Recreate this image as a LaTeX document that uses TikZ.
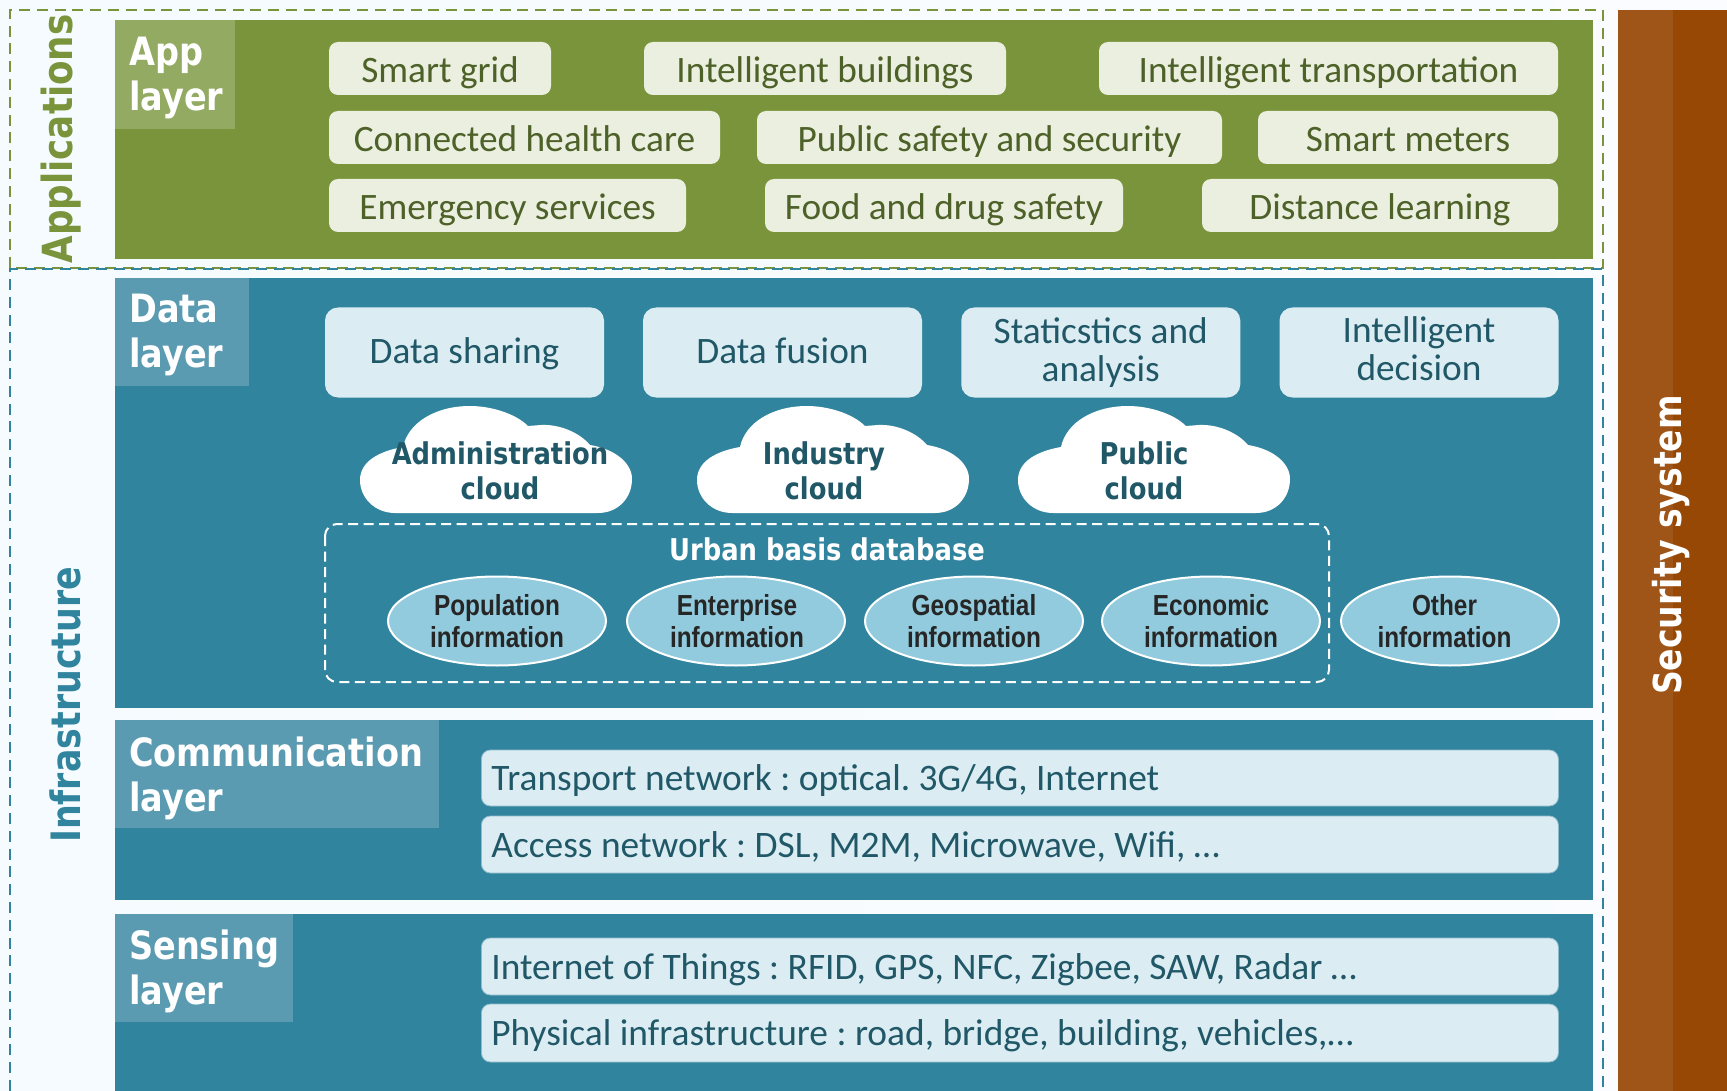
\documentclass[tikz,border=0pt]{standalone}
\usepackage{fontspec}
\setmainfont{Carlito}
\newfontfamily\headfont[FakeStretch=0.86]{DejaVu Sans}
\newfontfamily\ellfont[FakeStretch=0.84]{Liberation Sans}
\usetikzlibrary{shapes.geometric}
\definecolor{appgreen}{HTML}{7A943C}
\definecolor{apphead}{HTML}{93AA62}
\definecolor{appitem}{HTML}{EAEFDF}
\definecolor{apptext}{HTML}{4D6128}
\definecolor{teal}{HTML}{31849E}
\definecolor{tealhead}{HTML}{5B9BB2}
\definecolor{tealitem}{HTML}{DBEDF3}
\definecolor{tealedge}{HTML}{8FBCCB}
\definecolor{tealtext}{HTML}{215868}
\definecolor{ovalfill}{HTML}{92CBDD}
\definecolor{secleft}{HTML}{9F5518}
\definecolor{secright}{HTML}{964804}
\definecolor{pagefill}{HTML}{F5FBFE}
\definecolor{pageright}{HTML}{FAFCFF}
\tikzset{
  headtext/.style={text=white,anchor=north west,align=left,inner sep=0pt,font=\fontsize{39}{44.5}\headfont\bfseries},
  appbox/.style={fill=appitem,rounded corners=9pt,inner sep=0pt,text=apptext,minimum height=53pt,text height=34pt,text depth=6pt,font=\fontsize{37.3}{38}\selectfont},
  databox/.style={fill=tealitem,rounded corners=13pt,inner sep=0pt,text=tealtext,minimum width=279pt,minimum height=90pt,align=center,font=\fontsize{37.3}{37.5}\selectfont},
  linebox/.style={fill=tealitem,draw=tealedge,line width=.8pt,rounded corners=9pt,inner sep=0pt,inner xsep=10pt,anchor=west,text width=1057pt,align=flush left,text=tealtext,text height=32pt,text depth=6.5pt,font=\fontsize{37.4}{38}\selectfont},
  cloudtext/.style={text=tealtext,align=center,inner sep=0pt,font=\fontsize{30}{35}\headfont\bfseries},
  oval/.style={ellipse,fill=ovalfill,draw=white,line width=2pt,inner sep=0pt,minimum width=218pt,minimum height=89pt,align=center,text=black!85,font=\fontsize{29}{32}\ellfont\bfseries},
  dashline/.style={line width=2.2pt,dash pattern=on 11pt off 6.8pt},
  sidetext/.style={rotate=90,inner sep=0pt},
  cloudpic/.pic={
    \fill[white] (35,0) -- (238,0) .. controls (258,0) and (272,-15) .. (272,-34)
      .. controls (272,-50) and (255,-64) .. (230,-68)
      .. controls (220,-80) and (200,-89) .. (181,-88) -- (168,-87)
      .. controls (155,-100) and (130,-107) .. (110,-107)
      .. controls (75,-107) and (48,-90) .. (43,-66)
      .. controls (20,-62) and (0,-52) .. (0,-33)
      .. controls (0,-15) and (15,0) .. (35,0) -- cycle;
  }
}
\begin{document}
\frenchspacing
\begin{tikzpicture}[x=1pt,y=-1pt]
  \useasboundingbox (0,0) rectangle (1727,1091);
  \shade[left color=pagefill,right color=pageright] (0,0) rectangle (1727,1091);
  % security bar
  \fill[secleft] (1618,10) rectangle (1673,1091);
  \fill[secright] (1673,10) rectangle (1727,1091);
  \node[sidetext,text=white,font=\fontsize{38.5}{44}\headfont\bfseries] (security) at (1671,545) {Security system};
  % dashed frames
  \draw[appgreen,dashline] (10,268) -- (10,10) -- (1603,10) -- (1603,268) -- cycle;
  \draw[teal,dashline] (10,1091) -- (10,269) -- (1603,269) -- (1603,1091);
  \node[sidetext,text=appgreen,font=\fontsize{41.5}{44}\headfont\bfseries] (applications) at (61,139) {Applications};
  \node[sidetext,text=teal,font=\fontsize{40.5}{44}\headfont\bfseries] (infrastructure) at (65,705) {Infrastructure};
  % layers
  \fill[appgreen] (114.5,20) rectangle (1593,259);
  \fill[apphead] (114.5,20) rectangle (235,129);
  \fill[teal] (114.5,278) rectangle (1593,708);
  \fill[tealhead] (114.5,278) rectangle (249,386);
  \fill[teal] (114.5,720) rectangle (1593,900);
  \fill[tealhead] (114.5,720) rectangle (438.5,828);
  \fill[teal] (114.5,914) rectangle (1593,1091);
  \fill[tealhead] (114.5,914) rectangle (293,1022);
  \node[headtext] (apphd) at (129,37) {App\\layer};
  \node[headtext] (datahd) at (129,294) {Data\\layer};
  \node[headtext] (commhd) at (129,737) {Communication\\layer};
  \node[headtext] (senshd) at (129,930) {Sensing\\layer};
  % app layer
  \node[appbox,minimum width=222pt] (grid) at (440,68.5) {Smart grid};
  \node[appbox,minimum width=362pt] (buildings) at (825,68.5) {Intelligent buildings};
  \node[appbox,minimum width=459pt] (transport) at (1328.5,68.5) {Intelligent transportation};
  \node[appbox,minimum width=391pt] (health) at (524.5,137.5) {Connected health care};
  \node[appbox,minimum width=465pt] (safety) at (989.5,137.5) {Public safety and security};
  \node[appbox,minimum width=300pt] (meters) at (1408,137.5) {Smart meters};
  \node[appbox,minimum width=357pt] (emergency) at (507.5,205.5) {Emergency services};
  \node[appbox,minimum width=358pt] (food) at (944,205.5) {Food and drug safety};
  \node[appbox,minimum width=356pt] (learning) at (1380,205.5) {Distance learning};
  % data layer
  \node[databox,text height=28pt,text depth=7pt] (sharing) at (464.5,352.5) {Data sharing};
  \node[databox,text height=28pt,text depth=7pt] (fusion) at (782.5,352.5) {Data fusion};
  \node[databox] (analysis) at (1100.75,352.5) {Staticstics and\\analysis};
  \node[databox] (decision) at (1419,352.5) {Intelligent\\decision\rule[-8pt]{0pt}{8pt}};
  \pic at (360,513) {cloudpic};
  \pic at (697,513) {cloudpic};
  \pic at (1018,513) {cloudpic};
  \node[cloudtext] (admin) at (500,471) {Administration\\cloud};
  \node[cloudtext] (industry) at (824,471) {Industry\\cloud};
  \node[cloudtext] (public) at (1144,471) {Public\\cloud};
  \draw[white,line width=2pt,dash pattern=on 10pt off 5.5pt,rounded corners=12pt] (325,524) rectangle (1329,682);
  \node[text=white,inner sep=0pt,font=\fontsize{30}{34}\headfont\bfseries] (urban) at (827,549) {Urban basis database};
  \node[oval] (population) at (497,621) {Population\\information};
  \node[oval] (enterprise) at (736,621) {\hspace*{2pt}Enterprise\\\hspace*{2pt}information};
  \node[oval] (geo) at (974,621) {Geospatial\\information};
  \node[oval] (economic) at (1211,621) {Economic\\information};
  \node[oval] (other) at (1450,621) {Other\hspace*{11pt}\\information\hspace*{11pt}};
  % communication and sensing
  \node[linebox,minimum height=56pt] (transportnet) at (481,778) {Transport network : optical. 3G/4G, Internet};
  \node[linebox,minimum height=57pt] (accessnet) at (481,844.5) {Access network : DSL, M2M, Microwave, Wifi, \ldots};
  \node[linebox,minimum height=57pt] (things) at (481,966.5) {Internet of Things : RFID, GPS, NFC, Zigbee, SAW, Radar \ldots};
  \node[linebox,minimum height=58pt] (physical) at (481,1033) {Physical infrastructure : road, bridge, building, vehicles,\ldots};
\end{tikzpicture}
\end{document}
